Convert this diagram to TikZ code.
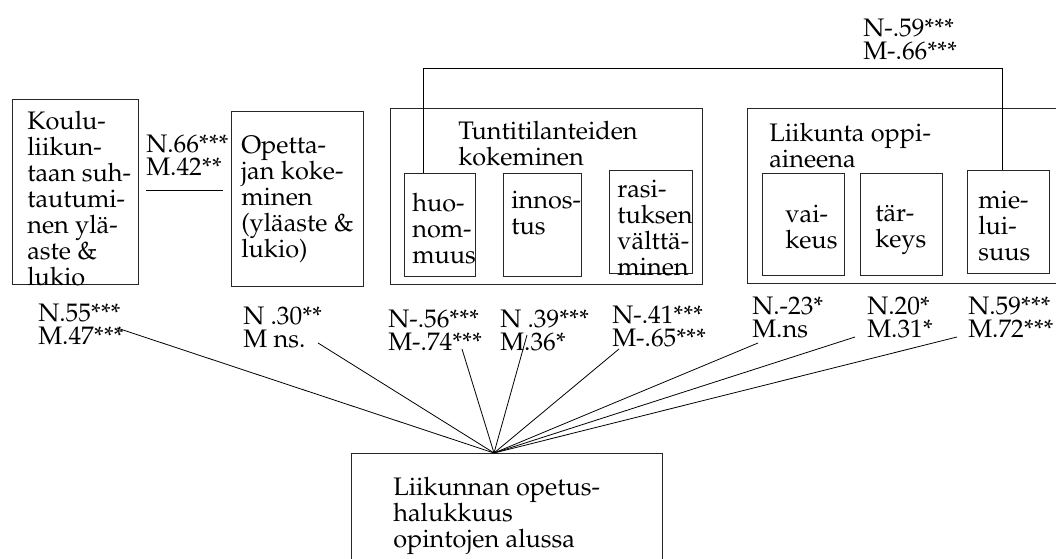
\documentclass[tikz,border=0pt]{standalone}
\usepackage[T1]{fontenc}
\usepackage{mathpazo}
\begin{document}
\begin{tikzpicture}[x=0.75pt,y=-0.75pt,
  box/.style 2 args={draw=black!85, line width=0.7pt, anchor=north west, inner sep=0pt,
    minimum width=#1*0.75pt, minimum height=#2*0.75pt},
  boxtext/.style={anchor=north west, inner sep=0pt, align=left,
    font=\fontsize{19}{19.5}\selectfont},
  coef/.style={anchor=north west, inner sep=0pt, align=left,
    font=\fontsize{19}{17.25}\selectfont},
  wire/.style={line width=0.6pt}]
\clip (0,0) rectangle (1056,559);
\fill[white] (0,0) rectangle (1056,559);

% predictor boxes
\node[box={126}{185}] (koulu) at (12,99) {};
\node[boxtext] (kouluT) at (27,111) {Koulu-\\liikun-\\taan suh-\\tautumi-\\nen yl\"a-\\aste \&\\lukio};

\node[box={132}{175}] (opet) at (231,111) {};
\node[boxtext] (opetT) at (241,136) {Opetta-\\jan koke-\\minen\\(yl\"aaste \&\\lukio)};

\node[coef] (c66) at (146,135) {N.66***\\M.42**};
\coordinate (sepL) at (146,190);
\coordinate (sepR) at (223,190);
\draw[wire] (sepL) -- (sepR);

% group: lesson situations
\node[box={312}{176}] (tunti) at (390,108) {};
\node[boxtext] (tuntiT) at (458,121) {Tuntitilanteiden\\kokeminen};
\node[box={71}{103}] (huo) at (404,173) {};
\node[boxtext] (huoT) at (412,193) {huo-\\nom-\\muus};
\node[box={78}{103}] (inno) at (503,173) {};
\node[boxtext] (innoT) at (511,191) {innos-\\tus};
\node[box={83}{103}] (rasi) at (609,170) {};
\node[boxtext] (rasiT) at (617,180) {rasi-\\tuksen\\v\"altt\"a-\\minen};

% group: the subject
\node[box={340}{175}] (aine) at (747,108) {};
\node[boxtext] (aineT) at (769,123) {Liikunta oppi-\\aineena};
\node[box={82}{102}] (vai) at (762,173) {};
\node[boxtext] (vaiT) at (785,205) {vai-\\keus};
\node[box={82}{102}] (tar) at (860,173) {};
\node[boxtext] (tarT) at (875,205) {t\"ar-\\keys};
\node[box={82}{103}] (mie) at (967,170) {};
\node[boxtext] (mieT) at (978,191) {mie-\\lui-\\suus};

% link between huonommuus and mieluisuus
\coordinate (linkA) at (423,173);
\coordinate (linkB) at (1002,170);
\draw[wire] (linkA) -- (423,68) -- (1002,68) -- (linkB);
\node[coef] (c59) at (863,19) {N-.59***\\M-.66***};

% outcome box
\node[box={311}{150}] (halu) at (351,453) {};
\node[boxtext] (haluT) at (393,477) {Liikunnan opetus-\\halukkuus\\opintojen alussa};
\coordinate (hub) at (494,453);

% coefficients
\node[coef] (k1) at (38,304) {N.55***\\M.47***};
\node[coef] (k2) at (243,307) {N .30**\\M ns.};
\node[coef] (k3) at (388,310) {N-.56***\\M-.74***};
\node[coef] (k4) at (500,310) {N .39***\\M.36*};
\node[coef] (k5) at (612,306) {N-.41***\\M-.65***};
\node[coef] (k6) at (752,297) {N.-23*\\M.ns};
\node[coef] (k7) at (867,297) {N.20*\\M.31*};
\node[coef] (k8) at (968,297) {N.59***\\M.72***};

\coordinate (e1) at (117,328);
\coordinate (e2) at (318,343);
\coordinate (e3) at (462,349);
\coordinate (e4) at (527,335);
\coordinate (e5) at (619,349);
\coordinate (e6) at (758,343);
\coordinate (e7) at (855,337);
\coordinate (e8) at (957,337);
\foreach \e in {e1,e2,e3,e4,e5,e6,e7,e8}
  \draw[wire] (\e) -- (hub);
\end{tikzpicture}
\end{document}
